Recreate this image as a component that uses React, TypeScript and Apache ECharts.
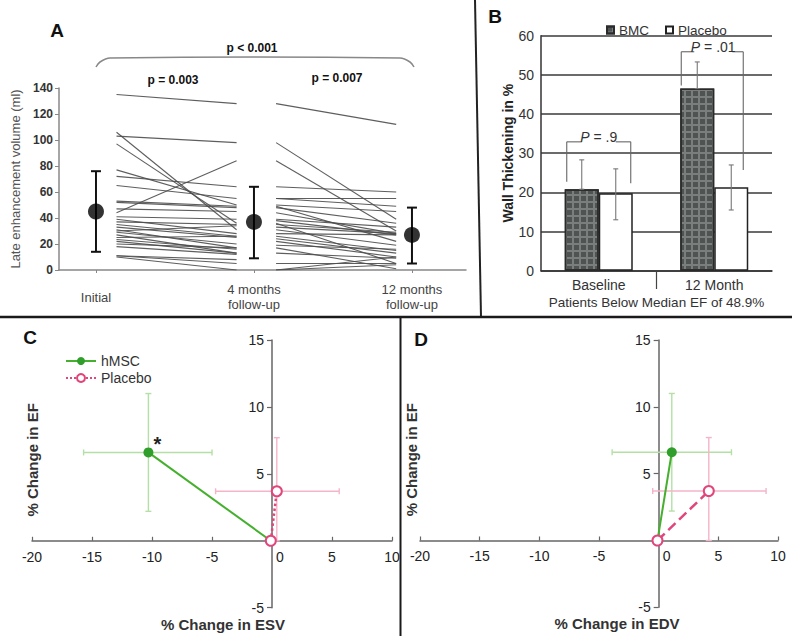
import React, { useEffect, useRef } from 'react';
import * as echarts from 'echarts';

const FONT = "'Liberation Sans', Arial, Helvetica, sans-serif";

// ---------- Panel A: late enhancement volume ----------
const timeLabels = ['Initial', '4 months\nfollow-up', '12 months\nfollow-up'];
const timePositions = [0, 1, 2];
const lgeMean = [45, 37, 27];
const lgeLow = [14, 9, 5];
const lgeHigh = [76, 64, 48];
const seg1From = 0.13;
const seg1To = 0.89;
const seg2From = 1.14;
const seg2To = 1.9;
const initialTo4m: [number, number][] = [
  [135, 128], [106, 31], [103, 98], [97, 36], [77, 50], [72, 64], [65, 55],
  [53, 49], [52, 48], [47, 45], [44, 84], [41, 39], [39, 28], [37, 35],
  [35, 26], [33, 25], [31, 17], [29, 20], [27, 13], [25, 26], [23.5, 16],
  [22, 13], [20, 17], [18, 12], [11, 5], [10, 0], [11, 8], [30, 34],
];
const fourTo12m: [number, number][] = [
  [128, 112], [98, 39], [84, 30], [64, 60], [55, 55], [55, 49], [50, 45],
  [49, 22], [48, 36], [44, 28], [39, 33], [38, 27], [36, 5], [35, 29],
  [33, 28], [31, 19], [28, 27], [26, 15], [24, 13], [22, 10], [19, 16],
  [17, 1], [13, 9], [5, 5], [0, 10], [0, 4],
];

// ---------- Panel B: wall thickening ----------
const wtCategories = ['Baseline', '12 Month'];
const bmcValues = [20.8, 46.5];
const bmcErrHigh = [28.3, 53.3];
const placeboValues = [19.8, 21.3];
const placeboErrLow = [13, 15.5];
const placeboErrHigh = [26, 27];
const pLabels = ['.9', '.01'];
// [categoryIndex, left leg bottom, right leg bottom, bracket top]
const pBrackets = [
  [0, 22.7, 22.3, 32.9],
  [1, 47.3, 25.7, 55.9],
];

// ---------- Panels C & D ----------
const originPt = [-0.1, 0];
const hmscEF = 6.6;
const hmscEFErr = [2.2, 11.0];
const placeboEF = 3.7;
const placeboEFErr = [0, 7.7];
const hmscESV = -10.3;
const hmscESVErr = [-15.7, -5.0];
const placeboESV = 0.4;
const placeboESVErr = [-4.7, 5.6];
const hmscEDV = 1.1;
const hmscEDVErr = [-3.9, 6.1];
const placeboEDV = 4.2;
const placeboEDVErr = [-0.5, 9.0];

const GREEN = '#2f9e2a';
const GREEN_LINE = '#45b02e';
const GREEN_LIGHT = '#b4e0a6';
const PINK = '#e2457c';
const PINK_LIGHT = '#f5b5c8';

// grid geometry for C and D
const gridC = { left: 32, top: 340, width: 360, height: 267.7 };
const gridD = { left: 420, top: 340, width: 358, height: 267.3 };
const X_MIN = -20, X_MAX = 10, Y_MIN = -5, Y_MAX = 15;

function crossErr(color: string) {
  return (params: any, api: any) => {
    const x = api.value(0), y = api.value(1);
    const pL = api.coord([api.value(2), y]);
    const pR = api.coord([api.value(3), y]);
    const pB = api.coord([x, api.value(4)]);
    const pT = api.coord([x, api.value(5)]);
    const c = 3;
    const style = { stroke: color, lineWidth: 1.4 };
    const ln = (x1: number, y1: number, x2: number, y2: number) => ({ type: 'line', shape: { x1, y1, x2, y2 }, style });
    return {
      type: 'group',
      children: [
        ln(pL[0], pL[1], pR[0], pR[1]),
        ln(pL[0], pL[1] - c, pL[0], pL[1] + c),
        ln(pR[0], pR[1] - c, pR[0], pR[1] + c),
        ln(pB[0], pB[1], pT[0], pT[1]),
        ln(pB[0] - c, pB[1], pB[0] + c, pB[1]),
        ln(pT[0] - c, pT[1], pT[0] + c, pT[1]),
      ],
    };
  };
}

function scatterAxes(gridIdx: number, g: any, xName: string, xNamePad: number, yNameGap: number) {
  // place axis lines through the zero point by offsetting from the grid edges
  const zeroX = g.left + ((0 - X_MIN) / (X_MAX - X_MIN)) * g.width;
  const zeroY = g.top + ((Y_MAX - 0) / (Y_MAX - Y_MIN)) * g.height;
  const x = {
    gridIndex: gridIdx, type: 'value', min: X_MIN, max: X_MAX, interval: 5,
    position: 'bottom', offset: -(g.top + g.height - zeroY),
    axisLine: { onZero: false, lineStyle: { color: '#666', width: 1.5 } },
    axisTick: { show: true, inside: true, length: 4, lineStyle: { color: '#666', width: 1.2 } },
    axisLabel: {
      fontSize: 14, color: '#222', margin: 9, fontFamily: FONT,
      formatter: (v: number) => (v === 0 ? '{z|0}' : String(v)),
      rich: { z: { padding: [0, 0, 0, 16], fontSize: 14, color: '#222', fontFamily: FONT } },
    },
    splitLine: { show: false },
    name: xName, nameLocation: 'middle', nameGap: 76,
    nameTextStyle: { fontSize: 15, fontWeight: 'bold', color: '#333', fontFamily: FONT, padding: [0, 0, 0, xNamePad] },
  };
  const y = {
    gridIndex: gridIdx, type: 'value', min: Y_MIN, max: Y_MAX, interval: 5,
    position: 'left', offset: -(zeroX - g.left),
    axisLine: { onZero: false, lineStyle: { color: '#666', width: 1.5 } },
    axisTick: { show: true, length: 5, lineStyle: { color: '#666', width: 1.2 } },
    axisLabel: { fontSize: 14, color: '#222', margin: 8, fontFamily: FONT, formatter: (v: number) => (v === 0 ? '' : String(v)) },
    splitLine: { show: false },
    name: '% Change in EF', nameLocation: 'middle', nameGap: yNameGap,
    nameTextStyle: { fontSize: 15, fontWeight: 'bold', color: '#333', fontFamily: FONT, padding: [0, 0, 0, 28] },
  };
  return { x, y };
}

function buildOption() {
  const cAxes = scatterAxes(2, gridC, '% Change in ESV', 22, 232);
  const dAxes = scatterAxes(3, gridD, '% Change in EDV', 36, 240);

  const series: any[] = [];

  // Panel A
  series.push({
    type: 'lines', coordinateSystem: 'cartesian2d', xAxisIndex: 0, yAxisIndex: 0,
    data: initialTo4m.map(([a, b]) => ({ coords: [[seg1From, a], [seg1To, b]] })),
    lineStyle: { color: '#4d4d4d', width: 1.1, opacity: 0.9 }, silent: true,
  });
  series.push({
    type: 'lines', coordinateSystem: 'cartesian2d', xAxisIndex: 0, yAxisIndex: 0,
    data: fourTo12m.map(([a, b]) => ({ coords: [[seg2From, a], [seg2To, b]] })),
    lineStyle: { color: '#4d4d4d', width: 1.1, opacity: 0.9 }, silent: true,
  });
  series.push({
    type: 'custom', xAxisIndex: 0, yAxisIndex: 0,
    data: timePositions.map((p, i) => [p, lgeMean[i], lgeLow[i], lgeHigh[i]]),
    encode: { x: 0, y: [1, 2, 3] },
    renderItem: (params: any, api: any) => {
      const p = api.value(0);
      const lo = api.coord([p, api.value(2)]);
      const hi = api.coord([p, api.value(3)]);
      const style = { stroke: '#111', lineWidth: 2 };
      return {
        type: 'group',
        children: [
          { type: 'line', shape: { x1: lo[0], y1: lo[1], x2: hi[0], y2: hi[1] }, style },
          { type: 'line', shape: { x1: lo[0] - 5, y1: lo[1], x2: lo[0] + 5, y2: lo[1] }, style },
          { type: 'line', shape: { x1: hi[0] - 5, y1: hi[1], x2: hi[0] + 5, y2: hi[1] }, style },
        ],
      };
    },
  });
  series.push({
    type: 'scatter', xAxisIndex: 0, yAxisIndex: 0, symbolSize: 16,
    data: timePositions.map((p, i) => [p, lgeMean[i]]),
    itemStyle: { color: '#000' }, z: 5,
  });

  // Panel B
  series.push({
    name: 'BMC', type: 'bar', xAxisIndex: 1, yAxisIndex: 1, data: bmcValues,
    barWidth: 34, barGap: '0%',
    itemStyle: {
      color: '#7a7f7e', borderColor: '#2a2a2a', borderWidth: 1.5,
      decal: { symbol: 'rect', symbolSize: 1, dashArrayX: [5, 2], dashArrayY: [5, 2], color: 'rgba(50,55,55,0.6)', rotation: 0 },
    },
  });
  series.push({
    name: 'Placebo', type: 'bar', xAxisIndex: 1, yAxisIndex: 1, data: placeboValues,
    barWidth: 34,
    itemStyle: { color: '#ffffff', borderColor: '#222', borderWidth: 1.5 },
  });
  series.push({
    type: 'custom', xAxisIndex: 1, yAxisIndex: 1, z: 4,
    data: [
      ...wtCategories.map((_, i) => [i, bmcValues[i], bmcErrHigh[i], -1]),
      ...wtCategories.map((_, i) => [i, placeboErrLow[i], placeboErrHigh[i], 1]),
    ],
    encode: { x: 0, y: [1, 2] },
    renderItem: (params: any, api: any) => {
      const c = api.value(0);
      const side = api.value(3);
      const lo = api.coord([c, api.value(1)]);
      const hi = api.coord([c, api.value(2)]);
      const x = lo[0] + side * 17;
      const style = { stroke: '#777', lineWidth: 1.1 };
      return {
        type: 'group',
        children: [
          { type: 'line', shape: { x1: x, y1: lo[1], x2: x, y2: hi[1] }, style },
          { type: 'line', shape: { x1: x - 2.5, y1: lo[1], x2: x + 2.5, y2: lo[1] }, style },
          { type: 'line', shape: { x1: x - 2.5, y1: hi[1], x2: x + 2.5, y2: hi[1] }, style },
        ],
      };
    },
  });
  series.push({
    type: 'custom', xAxisIndex: 1, yAxisIndex: 1, z: 4,
    data: pBrackets,
    encode: { x: 0, y: [1, 2, 3] },
    renderItem: (params: any, api: any) => {
      const c = api.value(0);
      const top = api.coord([c, api.value(3)]);
      const lL = api.coord([c, api.value(1)]);
      const rL = api.coord([c, api.value(2)]);
      const cx = top[0] + (c === 0 ? 0 : -1);
      const xl = cx - 32, xr = cx + (c === 0 ? 32 : 30);
      const gap = c === 0 ? 17 : 19;
      const style = { stroke: '#666', lineWidth: 1.1 };
      const ln = (x1: number, y1: number, x2: number, y2: number) => ({ type: 'line', shape: { x1, y1, x2, y2 }, style });
      return {
        type: 'group',
        children: [
          ln(xl, lL[1], xl, top[1]),
          ln(xr, rL[1], xr, top[1]),
          ln(xl, top[1], cx - gap, top[1]),
          ln(cx + gap, top[1], xr, top[1]),
          {
            type: 'text',
            style: {
              text: '{i|P} = ' + pLabels[params.dataIndex],
              x: cx, y: top[1] - 5, align: 'center', verticalAlign: 'middle',
              fontSize: 14, fontFamily: FONT, fill: '#333',
              rich: { i: { fontStyle: 'italic', fontSize: 14, fontFamily: FONT, fill: '#333' } },
            },
          },
        ],
      };
    },
  });

  // Panels C and D
  const panels = [
    { axis: 2, hx: hmscESV, hxe: hmscESVErr, px: placeboESV, pxe: placeboESVErr, star: true },
    { axis: 3, hx: hmscEDV, hxe: hmscEDVErr, px: placeboEDV, pxe: placeboEDVErr, star: false },
  ];
  panels.forEach((p) => {
    series.push({
      type: 'custom', xAxisIndex: p.axis, yAxisIndex: p.axis, z: 1,
      data: [[p.hx, hmscEF, p.hxe[0], p.hxe[1], hmscEFErr[0], hmscEFErr[1]]],
      encode: { x: [0, 2, 3], y: [1, 4, 5] },
      renderItem: crossErr(GREEN_LIGHT),
    });
    series.push({
      type: 'custom', xAxisIndex: p.axis, yAxisIndex: p.axis, z: 1,
      data: [[p.px, placeboEF, p.pxe[0], p.pxe[1], placeboEFErr[0], placeboEFErr[1]]],
      encode: { x: [0, 2, 3], y: [1, 4, 5] },
      renderItem: crossErr(PINK_LIGHT),
    });
    series.push({
      name: 'hMSC', type: 'line', xAxisIndex: p.axis, yAxisIndex: p.axis, z: 3,
      symbol: 'circle', symbolSize: 10,
      lineStyle: { color: GREEN_LINE, width: 2 },
      itemStyle: { color: GREEN },
      data: [
        { value: originPt, symbol: 'none' },
        {
          value: [p.hx, hmscEF],
          label: p.star
            ? { show: true, formatter: '*', position: [10, -13], fontSize: 20, fontWeight: 'bold', color: '#222', fontFamily: FONT }
            : { show: false },
        },
      ],
    });
    series.push({
      name: 'Placebo (hMSC trial)', type: 'line', xAxisIndex: p.axis, yAxisIndex: p.axis, z: 4,
      symbol: 'circle', symbolSize: 10,
      lineStyle: { color: PINK, width: 2.5, type: p.star ? 'dotted' : 'dashed' },
      itemStyle: { color: '#fff', borderColor: PINK, borderWidth: 2 },
      data: [originPt, [p.px, placeboEF]],
    });
  });

  const textEl = (x: number, y: number, text: string, size: number, weight = 'bold', color = '#111') => ({
    type: 'text', x, y,
    style: {
      text, fontSize: size, fontWeight: weight, fontFamily: FONT, fill: color,
      align: 'center', verticalAlign: 'middle', textAlign: 'center', textVerticalAlign: 'middle',
    },
  });

  return {
    animation: false,
    backgroundColor: '#ffffff',
    textStyle: { fontFamily: FONT },
    grid: [
      { left: 59, top: 88, width: 407, height: 182, outerBoundsMode: 'none', containLabel: false },
      { left: 541, top: 35.7, width: 231, height: 235, outerBoundsMode: 'none', containLabel: false },
      { ...gridC, outerBoundsMode: 'none', containLabel: false },
      { ...gridD, outerBoundsMode: 'none', containLabel: false },
    ],
    legend: [
      {
        data: ['BMC', 'Placebo'], left: 601, top: 18, icon: 'rect', itemWidth: 7, itemHeight: 7, itemGap: 16,
        textStyle: { fontSize: 13.5, color: '#333', fontFamily: FONT }, selectedMode: false,
      },
      {
        data: ['hMSC', 'Placebo (hMSC trial)'], left: 60, top: 349, orient: 'vertical', itemWidth: 30, itemHeight: 10, itemGap: 3,
        textStyle: { fontSize: 14, color: '#333', fontFamily: FONT }, selectedMode: false,
        formatter: (n: string) => (n === 'hMSC' ? 'hMSC' : 'Placebo'),
      },
    ],
    xAxis: [
      {
        gridIndex: 0, type: 'value', min: -0.234, max: 2.342,
        axisLine: { show: true, onZero: false, lineStyle: { color: '#888', width: 1.5 } },
        axisTick: { show: true, customValues: timePositions, length: 3, lineStyle: { color: '#888' } },
        axisLabel: {
          customValues: timePositions,
          formatter: (v: number) => timeLabels[timePositions.indexOf(v)] ?? '',
          fontSize: 13, color: '#444', lineHeight: 15, verticalAlign: 'middle', margin: 27, fontFamily: FONT,
        },
        splitLine: { show: false },
      },
      {
        gridIndex: 1, type: 'category', data: wtCategories,
        axisLine: { onZero: false, lineStyle: { color: '#333', width: 1.5 } },
        axisTick: { show: false },
        axisLabel: { fontSize: 14, color: '#333', margin: 7, fontFamily: FONT },
        name: 'Patients Below Median EF of 48.9%', nameLocation: 'middle', nameGap: 25,
        nameTextStyle: { fontSize: 13.5, color: '#333', fontFamily: FONT },
      },
      cAxes.x,
      dAxes.x,
    ],
    yAxis: [
      {
        gridIndex: 0, type: 'value', min: 0, max: 140, interval: 20,
        axisLine: { show: true, onZero: false, lineStyle: { color: '#888', width: 1.5 } },
        axisTick: { show: true, length: 4, lineStyle: { color: '#888' } },
        axisLabel: { fontSize: 12, fontWeight: 'bold', color: '#333', margin: 6, fontFamily: FONT },
        splitLine: { show: false },
        name: 'Late enhancement volume (ml)', nameLocation: 'middle', nameGap: 36,
        nameTextStyle: { fontSize: 13, color: '#555', fontFamily: FONT },
      },
      {
        gridIndex: 1, type: 'value', min: 0, max: 60, interval: 10,
        axisLine: { show: true, onZero: false, lineStyle: { color: '#333', width: 1.5 } },
        axisTick: { show: false },
        axisLabel: { fontSize: 14, color: '#333', margin: 7, fontFamily: FONT },
        splitLine: { show: true, lineStyle: { color: '#3a3a3a', width: 1.5 } },
        name: 'Wall Thickening in %', nameLocation: 'middle', nameGap: 23,
        nameTextStyle: { fontSize: 14, fontWeight: 'bold', color: '#222', fontFamily: FONT },
      },
      cAxes.y,
      dAxes.y,
    ],
    series,
    graphic: [
      textEl(57, 30, 'A', 19),
      textEl(495, 16, 'B', 19),
      textEl(30, 337, 'C', 19),
      textEl(421, 339, 'D', 19),
      textEl(252, 48, 'p < 0.001', 12),
      textEl(173, 80, 'p = 0.003', 12),
      textEl(337, 78, 'p = 0.007', 12),
      {
        type: 'polyline',
        shape: { points: [[96, 67], [100, 62], [110, 58], [400, 58], [410, 62], [414, 67]], smooth: 0.35 },
        style: { stroke: '#888', lineWidth: 1.5, fill: 'none' },
      },
      { type: 'line', shape: { x1: 475, y1: 0, x2: 481, y2: 317 }, style: { stroke: '#222', lineWidth: 2 } },
      { type: 'line', shape: { x1: 0, y1: 317, x2: 792, y2: 317 }, style: { stroke: '#1a1a1a', lineWidth: 2.5 } },
      { type: 'line', shape: { x1: 400.5, y1: 317, x2: 400.5, y2: 636 }, style: { stroke: '#1a1a1a', lineWidth: 2 } },
      { type: 'line', shape: { x1: 656.5, y1: 272, x2: 656.5, y2: 289 }, style: { stroke: '#444', lineWidth: 1.2 } },
    ],
  };
}

export default function App() {
  const ref = useRef<HTMLDivElement>(null);
  useEffect(() => {
    if (!ref.current) return;
    const chart = echarts.init(ref.current, null, { renderer: 'svg' });
    chart.setOption(buildOption() as any);
    return () => chart.dispose();
  }, []);
  return (
    <div
      ref={ref}
      style={{ position: 'absolute', left: 0, top: 0, width: 792, height: 636, background: '#fff' }}
    />
  );
}
